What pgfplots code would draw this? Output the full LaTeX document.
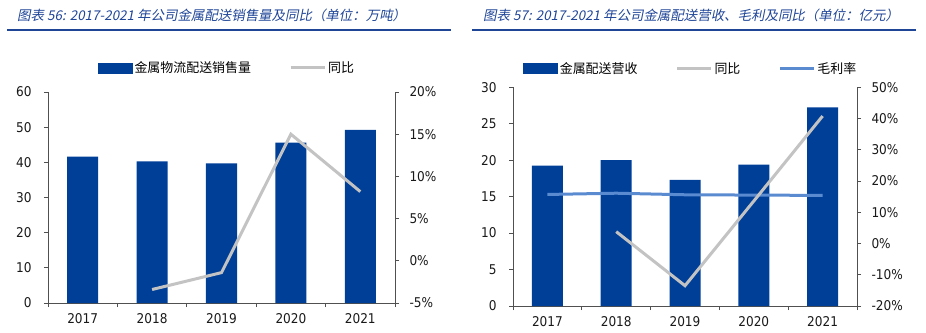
\documentclass[border=0pt]{standalone}
\usepackage{fontspec}
\usepackage{pgfplots}
\pgfplotsset{compat=1.18}
\setmainfont{DejaVu Sans Condensed}
\newfontfamily\cjk{Noto Sans CJK SC}
\newfontfamily\cjkit{Noto Sans CJK SC}[FakeSlant=0.2]
\definecolor{barblue}{HTML}{003F98}
\definecolor{lgray}{HTML}{C3C3C3}
\definecolor{lblue}{HTML}{5A8AD0}
\definecolor{titleblue}{HTML}{1F4597}
\definecolor{axgray}{HTML}{505050}
\pgfplotsset{
  base/.style={
    scale only axis,
    xmin=-0.5, xmax=4.5,
    axis line style={axgray, line width=0.7bp},
    every tick/.style={axgray, line width=0.7bp},
    tick align=outside,
    major tick length=4bp, minor tick length=4bp,
    ticklabel style={font=\fontsize{13.5}{15}\selectfont, text=black!90},
    /pgf/number format/assume math mode=true,
    clip=false,
  },
  leftax/.style={base,
    axis x line*=bottom, axis y line*=left,
    xtick={0,1,2,3,4}, xticklabels={2017,2018,2019,2020,2021},
    minor xtick={-0.5,0.5,1.5,2.5,3.5,4.5},
    major x tick style={draw=none},
    xticklabel style={yshift=-3bp},
    yticklabel style={xshift=-9bp},
  },
  rightax/.style={base,
    axis x line=none, axis y line*=right,
    yticklabel style={xshift=7bp},
    legend columns=-1,
    legend style={draw=none, fill=none, font=\cjk\fontsize{13}{15}\selectfont,
      /tikz/every even column/.append style={column sep=36bp},
      nodes={inner sep=2bp}},
    legend image code/.code={\draw[##1] (0bp,0bp) -- (34bp,0bp);},
  },
}
\begin{document}
\begin{tikzpicture}
\useasboundingbox (0,0) rectangle (926bp,333bp);
% titles
\node[anchor=west, text=titleblue, font=\cjkit\fontsize{13.5}{15}\selectfont, inner sep=0pt] at (17bp,318bp) {图表 56: 2017-2021 年公司金属配送销售量及同比（单位：万吨）};
\draw[titleblue, line width=2bp] (7bp,302.5bp) -- (451bp,302.5bp);
\node[anchor=west, text=titleblue, font=\cjkit\fontsize{13.5}{15}\selectfont, inner sep=0pt] at (483bp,318bp) {图表 57: 2017-2021 年公司金属配送营收、毛利及同比（单位：亿元）};
\draw[titleblue, line width=2bp] (472bp,302.5bp) -- (916bp,302.5bp);

% ---------- left chart ----------
\begin{axis}[leftax, at={(48bp,30bp)}, anchor=south west, width=347bp, height=211bp,
  ymin=0, ymax=60, ytick={0,10,20,30,40,50,60},
  yticklabels={0,10,20,30,40,50,60}]
\addplot[ybar, bar width=31bp, fill=barblue, draw=none] coordinates {
  (0,41.6) (1,40.3) (2,39.7) (3,45.6) (4,49.2)};
\end{axis}
\begin{axis}[rightax, at={(48bp,30bp)}, anchor=south west, width=347bp, height=211bp,
  ymin=-5, ymax=20, ytick={-5,0,5,10,15,20},
  yticklabels={-5\%,0\%,5\%,10\%,15\%,20\%},
  legend style={at={(0.516,1.114)}, anchor=center}]
\addlegendimage{legend image code/.code={\fill[barblue] (0bp,-5bp) rectangle (34bp,5bp);}}
\addlegendentry{金属物流配送销售量}
\addlegendimage{lgray, line width=3bp}
\addlegendentry{同比}
\addplot[lgray, line width=3bp, forget plot] coordinates {
  (1,-3.4) (2,-1.4) (3,15.0) (4,8.2)};
\end{axis}

% ---------- right chart ----------
\begin{axis}[leftax, at={(513bp,27bp)}, anchor=south west, width=344bp, height=218.7bp,
  ymin=0, ymax=30, ytick={0,5,10,15,20,25,30},
  yticklabels={0,5,10,15,20,25,30}]
\addplot[ybar, bar width=31bp, fill=barblue, draw=none] coordinates {
  (0,19.25) (1,20.0) (2,17.3) (3,19.4) (4,27.25)};
\end{axis}
\begin{axis}[rightax, at={(513bp,27bp)}, anchor=south west, width=344bp, height=218.7bp,
  ymin=-20, ymax=50, ytick={-20,-10,0,10,20,30,40,50},
  yticklabels={-20\%,-10\%,0\%,10\%,20\%,30\%,40\%,50\%},
  legend style={at={(0.517,1.086)}, anchor=center}]
\addlegendimage{legend image code/.code={\fill[barblue] (0bp,-5bp) rectangle (34bp,5bp);}}
\addlegendentry{金属配送营收}
\addlegendimage{lgray, line width=3bp}
\addlegendentry{同比}
\addlegendimage{lblue, line width=3bp}
\addlegendentry{毛利率}
\addplot[lblue, line width=3bp, forget plot] coordinates {
  (0,15.7) (1,16.1) (2,15.6) (3,15.5) (4,15.4)};
\addplot[lgray, line width=3bp, forget plot] coordinates {
  (1,3.8) (2,-13.5) (3,13.6) (4,40.8)};
\end{axis}
\end{tikzpicture}
\end{document}
